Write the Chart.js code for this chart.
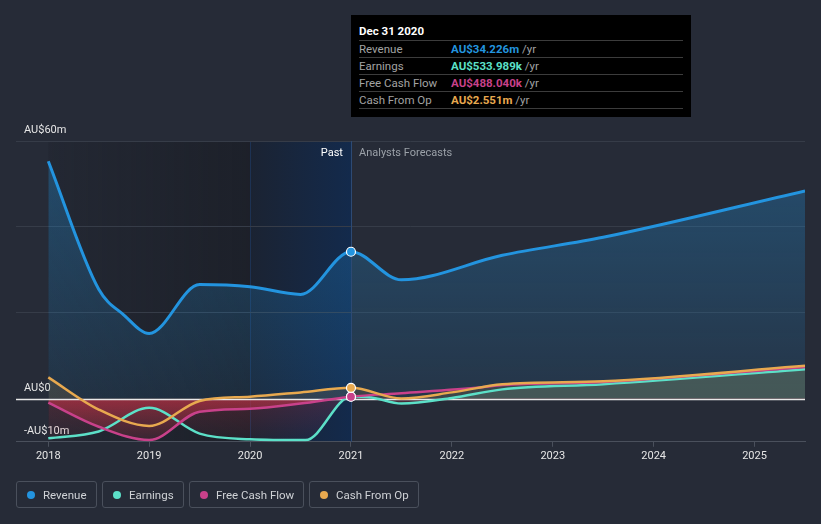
<!DOCTYPE html>
<html>
<head>
<meta charset="utf-8">
<script src="https://cdn.jsdelivr.net/npm/chart.js@4.4.1/dist/chart.umd.min.js"></script>
<style>
  html, body { margin: 0; padding: 0; background: #262b37; width: 821px; height: 524px; overflow: hidden; font-family: Roboto, "Noto Sans", sans-serif; }
  #wrap { position: relative; width: 821px; height: 524px; }
  #c { position: absolute; left: 0; top: 0; }
  #tip { position: absolute; left: 351px; top: 15px; width: 340px; height: 102px; background: #000; box-sizing: border-box; padding: 9px 8px 0 8px; }
  #tip .title { color: #fff; font-weight: bold; font-size: 11.5px; height: 16px; line-height: 14px; }
  #tip .row { border-top: 1px solid #3c3c3c; height: 16px; line-height: 16px; font-size: 11.5px; color: #a3a3a3; display: flex; }
  #tip .row:last-child { border-bottom: 1px solid #3c3c3c; }
  #tip .lab { width: 92px; }
  #tip .val { font-weight: bold; }
  #legend { position: absolute; left: 16px; top: 481px; display: flex; gap: 5px; }
  #legend .item { box-sizing: border-box; height: 27px; border: 1px solid #4a505c; border-radius: 3px; display: flex; align-items: center; padding-left: 10px; font-size: 11.5px; color: #cfd2d6; }
  #legend .dot { width: 8px; height: 8px; border-radius: 50%; margin-right: 8px; }
</style>
</head>
<body>
<div id="wrap">
  <canvas id="c" width="821" height="524"></canvas>
  <div id="tip"></div>
  <div id="legend"></div>
</div>
<script>
// ---- data ----
const seriesNames = ['Revenue', 'Earnings', 'Free Cash Flow', 'Cash From Op'];
const seriesColors = ['#2394df', '#5ce0c8', '#c8418a', '#e8a94f'];

const revenueYears  = [2018, 2018.5, 2018.75, 2019, 2019.5, 2020, 2020.5, 2021, 2021.5, 2022.5, 2023.5, 2025.5];
const revenueValues = [55.3, 25.5, 19.5, 15.2, 26.6, 26.1, 24.3, 34.226, 27.7, 33.4, 37.6, 48.4];

const earningsYears  = [2018, 2018.5, 2019, 2019.5, 2020, 2020.55, 2021, 2021.2, 2021.5, 2022, 2022.5, 2023.5, 2025.5];
const earningsValues = [-9.2, -7.6, -2.1, -8.1, -9.4, -9.6, 0.534, 0.3, -1.1, 0.2, 2.2, 3.4, 6.9];

const fcfYears  = [2018, 2018.5, 2019, 2019.5, 2020, 2020.5, 2021, 2021.5, 2022.3, 2022.5, 2023.5, 2025.5];
const fcfValues = [-0.9, -6.5, -9.6, -3.0, -2.3, -1.1, 0.488, 1.3, 2.7, 3.2, 3.9, 7.4];

const cfoYears  = [2018, 2018.5, 2019, 2019.5, 2020, 2020.5, 2021, 2021.5, 2022, 2022.5, 2023.5, 2025.5];
const cfoValues = [5.0, -2.5, -6.3, -0.5, 0.5, 1.5, 2.551, 0.1, 1.5, 3.4, 4.1, 7.7];

const xTickYears = [2018, 2019, 2020, 2021, 2022, 2023, 2024, 2025];
const yTickValues = [-10, 0, 20, 40, 60];
const yTickLabels = { '-10': '-AU$10m', '0': 'AU$0', '60': 'AU$60m' };

const pastStart = 2018, highlightStart = 2020, nowYear = 2021;
const tipTitle = 'Dec 31 2020';
const tipValues = ['AU$34.226m', 'AU$533.989k', 'AU$488.040k', 'AU$2.551m'];

// ---- tooltip / legend (html text) ----
const tip = document.getElementById('tip');
let th = '<div class="title">' + tipTitle + '</div>';
seriesNames.forEach((n, i) => {
  th += '<div class="row"><span class="lab">' + n + '</span><span class="val" style="color:' + seriesColors[i] + '">' + tipValues[i] + '</span><span>&nbsp;/yr</span></div>';
});
tip.innerHTML = th;
const legendWidths = [81, 82, 115, 110];
const lg = document.getElementById('legend');
seriesNames.forEach((n, i) => {
  const d = document.createElement('div');
  d.className = 'item';
  d.style.width = legendWidths[i] + 'px';
  d.innerHTML = '<span class="dot" style="background:' + seriesColors[i] + '"></span>' + n;
  lg.appendChild(d);
});

// ---- helpers ----
function pts(xs, ys) { return xs.map((x, i) => ({ x: x, y: ys[i] })); }
function vGrad(chart, stops) {
  const y = chart.scales.y;
  if (!chart.chartArea || !y) return stops[0][1];
  const y0 = y.getPixelForValue(stops[0][0]);
  const y1 = y.getPixelForValue(stops[stops.length - 1][0]);
  const g = chart.ctx.createLinearGradient(0, y0, 0, y1);
  stops.forEach(s => g.addColorStop(Math.min(1, Math.max(0, (y.getPixelForValue(s[0]) - y0) / (y1 - y0))), s[1]));
  return g;
}
const markR = ctx => (ctx.raw && ctx.raw.x === nowYear) ? 4.5 : 0;

const bgPlugin = {
  id: 'bgRegions',
  beforeDraw(chart) {
    const { ctx, chartArea: a, scales: { x } } = chart;
    const x0 = x.getPixelForValue(pastStart), x1 = x.getPixelForValue(highlightStart), x2 = x.getPixelForValue(nowYear);
    ctx.save();
    let g = ctx.createLinearGradient(x0, 0, x1, 0);
    g.addColorStop(0, 'rgba(18,20,26,0.12)');
    g.addColorStop(1, 'rgba(18,20,26,0.45)');
    ctx.fillStyle = g;
    ctx.fillRect(x0, a.top, x1 - x0, a.bottom - a.top);
    g = ctx.createLinearGradient(x1, 0, x2, 0);
    g.addColorStop(0, '#1b2332');
    g.addColorStop(1, '#132a4c');
    ctx.fillStyle = g;
    ctx.fillRect(x1, a.top, x2 - x1, a.bottom - a.top);
    ctx.fillStyle = '#1d3253';
    ctx.fillRect(Math.round(x1), a.top, 1, a.bottom - a.top);
    ctx.restore();
  },
  beforeDatasetsDraw(chart) {
    const { ctx, chartArea: a, scales: { x, y } } = chart;
    const yz = Math.round(y.getPixelForValue(0)) + 0.5;
    ctx.save();
    ctx.strokeStyle = '#e8e8e8';
    ctx.lineWidth = 1.3;
    ctx.beginPath(); ctx.moveTo(a.left, yz); ctx.lineTo(a.right, yz); ctx.stroke();
    const xn = Math.round(x.getPixelForValue(nowYear)) + 0.5;
    ctx.strokeStyle = '#2d4a74';
    ctx.lineWidth = 1;
    ctx.beginPath(); ctx.moveTo(xn, a.top); ctx.lineTo(xn, a.bottom); ctx.stroke();
    ctx.restore();
  },
  afterDraw(chart) {
    const { ctx, chartArea: a, scales: { x } } = chart;
    const xn = x.getPixelForValue(nowYear);
    ctx.save();
    ctx.font = '11px Roboto, "Noto Sans", sans-serif';
    ctx.textBaseline = 'middle';
    ctx.textAlign = 'right';
    ctx.fillStyle = '#ffffff';
    ctx.fillText('Past', xn - 8, a.top + 12);
    ctx.textAlign = 'left';
    ctx.fillStyle = '#9ba1a8';
    ctx.fillText('Analysts Forecasts', xn + 8, a.top + 12);
    ctx.restore();
  }
};

Chart.defaults.font.family = 'Roboto, "Noto Sans", sans-serif';

new Chart(document.getElementById('c'), {
  type: 'line',
  data: {
    datasets: [
      {
        label: seriesNames[0], data: pts(revenueYears, revenueValues), order: 4,
        borderColor: seriesColors[0], borderWidth: 3, cubicInterpolationMode: 'monotone',
        fill: 'origin',
        backgroundColor: ctx => vGrad(ctx.chart, [[60, 'rgba(35,148,223,0.34)'], [0, 'rgba(35,148,223,0.10)']]),
        pointRadius: markR, pointBackgroundColor: seriesColors[0], pointBorderColor: '#ffffff', pointBorderWidth: 1.2
      },
      {
        label: seriesNames[1], data: pts(earningsYears, earningsValues), order: 3,
        borderColor: seriesColors[1], borderWidth: 2.5, cubicInterpolationMode: 'monotone',
        fill: { target: 'origin', above: 'rgba(92,224,200,0.13)',
                below: ctx => vGrad(ctx.chart, [[0, 'rgba(200,50,70,0.22)'], [-10, 'rgba(200,50,70,0.04)']]) },
        backgroundColor: 'rgba(0,0,0,0)',
        pointRadius: markR, pointBackgroundColor: seriesColors[1], pointBorderColor: '#ffffff', pointBorderWidth: 1.2
      },
      {
        label: seriesNames[2], data: pts(fcfYears, fcfValues), order: 2,
        borderColor: seriesColors[2], borderWidth: 2.5, cubicInterpolationMode: 'monotone',
        fill: { target: 'origin', above: 'rgba(0,0,0,0)',
                below: ctx => vGrad(ctx.chart, [[0, 'rgba(200,50,70,0.58)'], [-10, 'rgba(200,50,70,0.12)']]) },
        backgroundColor: 'rgba(0,0,0,0)',
        pointRadius: markR, pointBackgroundColor: seriesColors[2], pointBorderColor: '#ffffff', pointBorderWidth: 1.2
      },
      {
        label: seriesNames[3], data: pts(cfoYears, cfoValues), order: 1,
        borderColor: seriesColors[3], borderWidth: 2.5, cubicInterpolationMode: 'monotone',
        fill: { target: 'origin', above: 'rgba(232,169,79,0.13)', below: 'rgba(0,0,0,0)' },
        backgroundColor: 'rgba(0,0,0,0)',
        pointRadius: markR, pointBackgroundColor: seriesColors[3], pointBorderColor: '#ffffff', pointBorderWidth: 1.2
      }
    ]
  },
  options: {
    responsive: false, devicePixelRatio: 1, animation: false, events: [],
    layout: { padding: { top: 141, left: 0, right: 16, bottom: 58 } },
    plugins: { legend: { display: false }, tooltip: { enabled: false }, filler: { drawTime: 'beforeDatasetsDraw' } },
    scales: {
      x: {
        type: 'linear', min: 2017.68, max: 2025.5,
        afterBuildTicks: axis => { axis.ticks = xTickYears.map(v => ({ value: v })); },
        grid: { drawOnChartArea: false, drawTicks: true, tickLength: 5, color: '#4a505c' },
        border: { color: '#4a505c', width: 1 },
        ticks: { color: '#e6e6e6', font: { size: 11 }, padding: 3, maxRotation: 0, callback: v => String(v) }
      },
      y: {
        min: -10, max: 60,
        afterBuildTicks: axis => { axis.ticks = yTickValues.map(v => ({ value: v })); },
        grid: { drawTicks: false, color: ctx => ctx.tick && (ctx.tick.value === 0 || ctx.tick.value === -10) ? 'rgba(0,0,0,0)' : '#363c48' },
        border: { display: false },
        ticks: { mirror: true, padding: 8, labelOffset: -11, color: '#e6e6e6', font: { size: 11 },
          callback: v => (yTickLabels[String(v)] || '') }
      }
    }
  },
  plugins: [bgPlugin]
});
</script>
</body>
</html>
